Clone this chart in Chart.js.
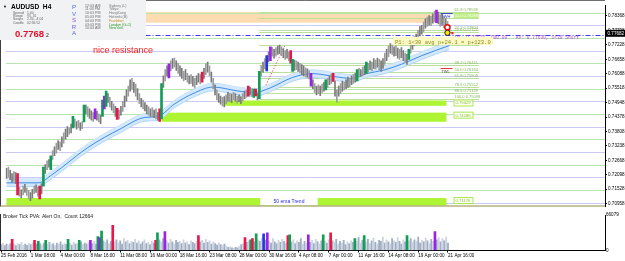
<!DOCTYPE html>
<html>
<head>
<meta charset="utf-8">
<script src="https://cdn.jsdelivr.net/npm/chart.js@4.4.1/dist/chart.umd.min.js"></script>
<style>
  html, body { margin: 0; padding: 0; background: #fff; }
  #wrap { position: relative; width: 625px; height: 261px; overflow: hidden; }
  .pane { position: absolute; left: 0; }
</style>
</head>
<body>
<div id="wrap">
  <div class="pane" style="top:0"><canvas id="main" width="625" height="212"></canvas></div>
  <div class="pane" style="top:212px"><canvas id="vol" width="625" height="49"></canvas></div>
</div>
<script>
// AUDUSD H4, 25 Feb - 21 Apr 2016
const timeLabels = ['25 Feb 2016', '1 Mar 08:00', '4 Mar 00:00', '8 Mar 16:00', '11 Mar 08:00', '16 Mar 00:00',
  '18 Mar 16:00', '23 Mar 08:00', '28 Mar 00:00', '30 Mar 16:00', '4 Apr 08:00', '7 Apr 00:00',
  '11 Apr 16:00', '14 Apr 08:00', '19 Apr 00:00', '21 Apr 16:00'];
const priceTicks = [0.70958, 0.71528, 0.72098, 0.72668, 0.73238, 0.73808, 0.74378, 0.74948,
  0.75518, 0.76088, 0.76658, 0.77228, 0.77798, 0.78368];

const barHigh = [
  0.7235, 0.7240, 0.7228, 0.7215, 0.7222, 0.7218, 0.7215, 0.7160, 0.7150, 0.7165,
  0.7172, 0.7158, 0.7148, 0.7140, 0.7152, 0.7165, 0.7170, 0.7160, 0.7165, 0.7175,
  0.7240, 0.7250, 0.7265, 0.7270, 0.7285, 0.7305, 0.7320, 0.7335, 0.7345, 0.7340,
  0.7360, 0.7375, 0.7390, 0.7400, 0.7395, 0.7410, 0.7440, 0.7430, 0.7420, 0.7425,
  0.7415, 0.7420, 0.7485, 0.7485, 0.7478, 0.7470, 0.7462, 0.7455, 0.7470, 0.7460,
  0.7450, 0.7445, 0.7505, 0.7520, 0.7540, 0.7530, 0.7515, 0.7500, 0.7490, 0.7480,
  0.7472, 0.7465, 0.7480, 0.7500, 0.7520, 0.7545, 0.7560, 0.7585, 0.7590, 0.7575,
  0.7568, 0.7550, 0.7530, 0.7512, 0.7505, 0.7495, 0.7485, 0.7478, 0.7470, 0.7475,
  0.7465, 0.7470, 0.7455, 0.7470, 0.7570, 0.7600, 0.7625, 0.7640, 0.7648, 0.7660,
  0.7668, 0.7670, 0.7660, 0.7650, 0.7640, 0.7630, 0.7618, 0.7625, 0.7610, 0.7600,
  0.7605, 0.7598, 0.7590, 0.7600, 0.7610, 0.7605, 0.7615, 0.7630, 0.7648, 0.7655,
  0.7640, 0.7615, 0.7590, 0.7565, 0.7545, 0.7530, 0.7520, 0.7515, 0.7518, 0.7525,
  0.7535, 0.7530, 0.7528, 0.7535, 0.7530, 0.7520, 0.7525, 0.7518, 0.7530, 0.7540,
  0.7545, 0.7560, 0.7555, 0.7550, 0.7548, 0.7548, 0.7530, 0.7618, 0.7640, 0.7655,
  0.7668, 0.7680, 0.7695, 0.7715, 0.7712, 0.7705, 0.7712, 0.7718, 0.7722, 0.7715,
  0.7708, 0.7700, 0.7705, 0.7695, 0.7700, 0.7665, 0.7662, 0.7660, 0.7655, 0.7650,
  0.7645, 0.7640, 0.7632, 0.7628, 0.7620, 0.7610, 0.7585, 0.7570, 0.7560, 0.7565,
  0.7560, 0.7568, 0.7575, 0.7585, 0.7590, 0.7600, 0.7608, 0.7610, 0.7580, 0.7545,
  0.7560, 0.7570, 0.7580, 0.7575, 0.7585, 0.7595, 0.7590, 0.7600, 0.7605, 0.7610,
  0.7625, 0.7630, 0.7625, 0.7635, 0.7640, 0.7655, 0.7650, 0.7660, 0.7655, 0.7668,
  0.7662, 0.7670, 0.7665, 0.7660, 0.7668, 0.7690, 0.7705, 0.7718, 0.7728, 0.7722,
  0.7715, 0.7718, 0.7710, 0.7705, 0.7712, 0.7700, 0.7690, 0.7685, 0.7705, 0.7725,
  0.7740, 0.7755, 0.7765, 0.7780, 0.7795, 0.7800, 0.7812, 0.7825, 0.7832, 0.7838,
  0.7835, 0.7845, 0.7855, 0.7860, 0.7852, 0.7840, 0.7845, 0.7835, 0.7825, 0.7815,
  0.7800];
const barLow = [
  0.7195, 0.7200, 0.7190, 0.7180, 0.7185, 0.7175, 0.7130, 0.7125, 0.7118, 0.7130,
  0.7140, 0.7128, 0.7115, 0.7108, 0.7118, 0.7135, 0.7140, 0.7125, 0.7115, 0.7135,
  0.7165, 0.7215, 0.7230, 0.7240, 0.7230, 0.7270, 0.7285, 0.7295, 0.7310, 0.7305,
  0.7320, 0.7335, 0.7350, 0.7360, 0.7370, 0.7375, 0.7395, 0.7400, 0.7390, 0.7395,
  0.7385, 0.7392, 0.7418, 0.7450, 0.7440, 0.7432, 0.7425, 0.7420, 0.7430, 0.7425,
  0.7418, 0.7412, 0.7440, 0.7470, 0.7480, 0.7495, 0.7478, 0.7465, 0.7455, 0.7440,
  0.7428, 0.7430, 0.7445, 0.7460, 0.7478, 0.7500, 0.7520, 0.7540, 0.7548, 0.7535,
  0.7520, 0.7505, 0.7490, 0.7478, 0.7470, 0.7462, 0.7450, 0.7445, 0.7440, 0.7438,
  0.7435, 0.7430, 0.7425, 0.7420, 0.7430, 0.7555, 0.7580, 0.7600, 0.7592, 0.7620,
  0.7630, 0.7635, 0.7622, 0.7610, 0.7600, 0.7590, 0.7580, 0.7585, 0.7575, 0.7568,
  0.7570, 0.7560, 0.7552, 0.7565, 0.7575, 0.7568, 0.7575, 0.7590, 0.7605, 0.7615,
  0.7600, 0.7575, 0.7550, 0.7525, 0.7505, 0.7495, 0.7488, 0.7482, 0.7478, 0.7490,
  0.7500, 0.7498, 0.7495, 0.7505, 0.7500, 0.7492, 0.7498, 0.7490, 0.7500, 0.7510,
  0.7515, 0.7520, 0.7525, 0.7520, 0.7515, 0.7522, 0.7505, 0.7510, 0.7600, 0.7615,
  0.7628, 0.7620, 0.7655, 0.7660, 0.7678, 0.7670, 0.7678, 0.7685, 0.7688, 0.7680,
  0.7672, 0.7665, 0.7670, 0.7660, 0.7650, 0.7618, 0.7622, 0.7625, 0.7618, 0.7612,
  0.7605, 0.7600, 0.7598, 0.7595, 0.7588, 0.7560, 0.7550, 0.7535, 0.7525, 0.7530,
  0.7522, 0.7535, 0.7540, 0.7545, 0.7555, 0.7565, 0.7570, 0.7578, 0.7520, 0.7496,
  0.7520, 0.7530, 0.7540, 0.7545, 0.7550, 0.7555, 0.7558, 0.7565, 0.7570, 0.7575,
  0.7580, 0.7595, 0.7598, 0.7600, 0.7605, 0.7610, 0.7615, 0.7625, 0.7620, 0.7630,
  0.7628, 0.7635, 0.7625, 0.7618, 0.7630, 0.7645, 0.7660, 0.7675, 0.7690, 0.7685,
  0.7678, 0.7680, 0.7670, 0.7665, 0.7672, 0.7660, 0.7652, 0.7645, 0.7665, 0.7690,
  0.7705, 0.7718, 0.7730, 0.7742, 0.7758, 0.7765, 0.7775, 0.7788, 0.7795, 0.7800,
  0.7798, 0.7808, 0.7815, 0.7810, 0.7805, 0.7795, 0.7800, 0.7790, 0.7785, 0.7770,
  0.7765];
// PVSRA colour per bar: d/l normal, R red, G green, P purple, B blue climax
const barKind = ['dlddldRldl', 'dllddldlRd', 'GdldGldldl', 'dlddldGldl', 'dlGdlddlPd',
  'ldGPGdldld', 'Rldlddldld', 'ldldlddldl', 'dldRGdldPl', 'dldlddldld',
  'ldlddlRdld', 'ldldlddldl', 'dldldlddld', 'lRdlGRdGld', 'lBdPldlddl',
  'dldlRGdldl', 'ddldlPdldl', 'dldGldlRdl', 'dldlddldld', 'GldldGldld',
  'ldlddldldl', 'dldlddldGl', 'dldlddldld', 'ldlPdldldl', 'd'].join('');
const tickVolume = [
  11000, 14000, 9000, 12000, 10000, 13000, 21000, 12000, 9000, 13000,
  11000, 15000, 10000, 12000, 9500, 13500, 11000, 14000, 19000, 12000,
  17000, 13000, 10000, 14000, 19000, 12000, 15000, 11000, 13000, 9000,
  14000, 12000, 16000, 10000, 13000, 11500, 21000, 14000, 10000, 15000,
  12000, 13000, 19000, 16000, 11000, 14000, 12000, 15000, 19000, 13000,
  17000, 12000, 26000, 24000, 36000, 18000, 15000, 20000, 13000, 17000,
  47000, 16000, 20000, 14000, 18000, 12000, 22000, 16000, 19000, 13000,
  17000, 15000, 21000, 14000, 18000, 12000, 16000, 20000, 13000, 15000,
  11000, 17000, 14000, 19000, 33000, 20000, 16000, 22000, 35000, 18000,
  14000, 21000, 16000, 12000, 19000, 15000, 17000, 13000, 20000, 14000,
  16000, 11000, 18000, 15000, 13000, 17000, 28000, 16000, 19000, 14000,
  21000, 15000, 18000, 12000, 16000, 13000, 10000, 14000, 11000, 9000,
  12000, 8000, 6000, 7000, 5000, 4000, 6000, 5000, 8000, 11000,
  13000, 24000, 15000, 18000, 20000, 22000, 16000, 31000, 20000, 17000,
  23000, 31000, 19000, 33000, 18000, 14000, 22000, 16000, 13000, 19000,
  15000, 21000, 17000, 14000, 28000, 29000, 16000, 20000, 13000, 18000,
  15000, 22000, 12000, 17000, 14000, 29000, 15000, 19000, 13000, 21000,
  16000, 12000, 18000, 29000, 17000, 14000, 20000, 33000, 18000, 15000,
  21000, 12000, 17000, 14000, 19000, 11000, 16000, 13000, 18000, 15000,
  22000, 17000, 24000, 14000, 19000, 28000, 16000, 21000, 13000, 18000,
  23000, 15000, 12000, 19000, 17000, 25000, 14000, 20000, 16000, 13000,
  22000, 18000, 15000, 24000, 17000, 12000, 20000, 16000, 28000, 18000,
  22000, 15000, 20000, 17000, 25000, 14000, 19000, 16000, 23000, 18000,
  13000, 21000, 17000, 35000, 20000, 24000, 16000, 22000, 18000, 25000,
  14000];
const volumeMax = 66079;

// 50 EMA read at a few bars
const emaBar = [0, 17, 25, 44, 62, 75, 82, 91, 101, 112, 125, 134, 143, 155, 166, 178, 187, 195, 205, 214, 225, 240];
const emaValue = [0.7178, 0.7178, 0.7212, 0.7317, 0.7392, 0.7436, 0.7440, 0.7489, 0.7530, 0.7556, 0.7541,
  0.7534, 0.7553, 0.7594, 0.7609, 0.7597, 0.7590, 0.7609, 0.7624, 0.7646, 0.7680, 0.7720];

// levels and zones
const greenLevels = [0.7150, 0.7250, 0.7350, 0.7450, 0.7550, 0.7650, 0.7750, 0.7850];
const purpleLevels = [0.7100, 0.7200, 0.7300, 0.7400, 0.7500, 0.7600, 0.7700, 0.7800];
const fibNames = ['38.2', '50.0', '61.8', '78.6', '88.6', '100.0'];
const fibPrices = [0.76411, 0.76160, 0.75909, 0.75552, 0.75339, 0.75098];
const extNames = ['0.0', '23.6', '27.2', '50.0', '61.8'];
const extPrices = [0.77225, 0.77727, 0.77804, 0.78289, 0.78539];
const zoneTop = [0.7503, 0.7455, 0.7118];
const zoneBottom = [0.7482, 0.7419, 0.7089];
const zoneFromBar = [118, 84, 0];
const zoneNames = ['0.75029', '0.74188', '0.71176'];
const supplyTop = 0.7852, supplyBottom = 0.7810;
const entryPrice = 0.77630, lastPrice = 0.77682;
const fibLowBar = 137, fibHighBar = 151;
const markBar = [238.9, 238.9, 241.6];
const markPrice = [0.7792, 0.7770, 0.7769];

const X_MIN = -0.54, X_MAX = 324.3;
const FONT = 'Liberation Sans', MONO = 'Liberation Mono';
Chart.defaults.font.family = FONT;

const priceColor = { d: '#7a7a7a', l: '#9d9d9d', R: '#e8174a', G: '#129c55', P: '#9a22e6', B: '#2336e0' };
const volColor = { d: '#a0aec4', l: '#cdd4e0', R: '#e8174a', G: '#129c55', P: '#9a22e6', B: '#2336e0' };
const isPlain = k => k === 'd' || k === 'l';

const plainBars = [], plainBarCol = [], hotBars = [], hotBarCol = [];
const plainVol = [], plainVolCol = [], hotVol = [], hotVolCol = [];
barHigh.forEach((hi, i) => {
  const k = barKind[i];
  const bar = { x: i, y: [barLow[i], hi] };
  const vol = { x: i, y: tickVolume[i] };
  if (isPlain(k)) {
    plainBars.push(bar); plainBarCol.push(priceColor[k]);
    plainVol.push(vol); plainVolCol.push(volColor[k]);
  } else {
    hotBars.push(bar); hotBarCol.push(priceColor[k]);
    hotVol.push(vol); hotVolCol.push(volColor[k]);
  }
});
const bandHalf = 0.0015;
const emaMid = emaBar.map((b, k) => ({ x: b, y: emaValue[k] }));
const emaUp = emaBar.map((b, k) => ({ x: b, y: emaValue[k] + bandHalf }));
const emaDn = emaBar.map((b, k) => ({ x: b, y: emaValue[k] - bandHalf }));

function txt(ctx, s, x, y, size, color, opts = {}) {
  ctx.font = (opts.bold ? 'bold ' : '') + size + 'px ' + (opts.family || FONT);
  ctx.fillStyle = color;
  ctx.textAlign = opts.align || 'left';
  ctx.textBaseline = 'alphabetic';
  ctx.fillText(s, x, y);
}

const mainOverlay = {
  id: 'mainOverlay',
  beforeDatasetsDraw(chart) {
    const { ctx, chartArea: a } = chart;
    const X = v => chart.scales.x.getPixelForValue(v);
    const Y = v => chart.scales.y.getPixelForValue(v);
    const H = v => Math.round(Y(v)) + 0.5;
    ctx.save();
    ctx.beginPath(); ctx.rect(a.left, a.top, a.right - a.left, a.bottom - a.top); ctx.clip();

    // supply zone
    ctx.fillStyle = '#fddbb0';
    ctx.fillRect(X(0), Y(supplyTop), X(235.7) - X(0), Y(supplyBottom) - Y(supplyTop));

    // round number lines
    ctx.lineWidth = 1;
    const hl = (p, c, x0, x1) => { ctx.strokeStyle = c; ctx.beginPath(); ctx.moveTo(x0, H(p)); ctx.lineTo(x1, H(p)); ctx.stroke(); };
    greenLevels.forEach(p => hl(p, '#b7e6b1', a.left, a.right));
    purpleLevels.forEach(p => hl(p, '#cacaf2', a.left, a.right));

    // demand zones
    ctx.fillStyle = '#adf533';
    zoneTop.forEach((t, k) => {
      ctx.fillRect(X(zoneFromBar[k]), Y(t), X(238.4) - X(zoneFromBar[k]), Y(zoneBottom[k]) - Y(t));
    });
    const ty = Y(zoneTop[2]), by = Y(zoneBottom[2]);
    ctx.fillStyle = '#ffffff';
    ctx.fillRect(X(137.5), ty, X(168.6) - X(137.5), by - ty);
    txt(ctx, '50 ema Trend', (X(137.5) + X(168.6)) / 2, by - 2, 5, '#2b2bd0', { align: 'center' });

    // fibonacci lines
    fibPrices.concat(extPrices).forEach(p => hl(p, '#bddf9c', X(fibLowBar), X(256)));
    ctx.setLineDash([1.5, 1.5]);
    ctx.strokeStyle = '#f06666';
    ctx.beginPath();
    ctx.moveTo(X(fibLowBar), Y(fibPrices[5]));
    ctx.lineTo(X(fibHighBar), Y(extPrices[0]));
    ctx.stroke();

    // entry line
    ctx.setLineDash([5, 2, 1, 2]);
    hl(entryPrice, '#3a3af0', a.left, a.right);
    ctx.restore();
  },
  afterDatasetsDraw(chart) {
    const { ctx } = chart;
    const X = v => chart.scales.x.getPixelForValue(v);
    const Y = v => chart.scales.y.getPixelForValue(v);
    ctx.save();
    // fib labels
    const lx = X(242.8);
    fibPrices.forEach((p, k) => txt(ctx, fibNames[k] + ' ' + p.toFixed(5), lx, Y(p) - 1, 4, '#86b45c'));
    extPrices.forEach((p, k) => {
      const s = extNames[k] + ' ' + p.toFixed(5);
      if (extNames[k] === '50.0') {
        ctx.fillStyle = '#b9ec7c';
        ctx.fillRect(lx - 1, Y(p) - 5, 25, 5);
        txt(ctx, s, lx, Y(p) - 1, 4, '#ffffff');
      } else {
        txt(ctx, s, lx, Y(p) - 1, 4, '#86b45c');
      }
    });
    // zone labels
    zoneTop.forEach((t, k) => {
      const y0 = Y(t);
      ctx.fillStyle = '#fff'; ctx.strokeStyle = '#a9ea48'; ctx.lineWidth = 1;
      ctx.fillRect(X(242.2), y0 - 1, 19, 6);
      ctx.strokeRect(X(242.2) + 0.5, y0 - 0.5, 19, 6);
      txt(ctx, zoneNames[k], X(242.2) + 2, y0 + 4, 4.2, '#88c61e');
    });

    // trade window marks
    ctx.fillStyle = '#e03030'; ctx.fillRect(X(235.2), Y(0.7631), 12, 1);
    txt(ctx, 'TWL', X(235.6), Y(0.7631) + 5, 4, '#505050');
    ctx.fillStyle = '#3040d0'; ctx.fillRect(X(235.2), Y(0.7848), 12, 1);
    txt(ctx, 'TWH', X(235.6), Y(0.7848) + 5, 4, '#3040d0');

    // notes
    txt(ctx, 'nice resistance', 93, 53, 9, '#ff1a1a');
    const ey = Y(entryPrice);
    txt(ctx, 'P1  0.77630, 000.00   AV: 0.77630, 1<30 Short', 455, ey + 4.5, 4.6, '#b24ed0', { family: MONO });
    ctx.fillStyle = '#fdf9c4';
    ctx.fillRect(393, 37, 100, 8);
    txt(ctx, 'P1: 1<30 avg p+24.1 = p+123.0', 395, 43.5, 5.5, '#8c8c1c', { family: MONO });
    ctx.restore();
  },
  afterDraw(chart) {
    const { ctx, chartArea: a } = chart;
    const Y = v => chart.scales.y.getPixelForValue(v);
    ctx.save();
    // frame
    ctx.lineWidth = 1;
    ctx.strokeStyle = '#6e6e6e';
    ctx.beginPath(); ctx.moveTo(a.left, 0.5); ctx.lineTo(a.right, 0.5); ctx.stroke();
    ctx.strokeStyle = '#404040';
    ctx.beginPath(); ctx.moveTo(0.5, 0); ctx.lineTo(0.5, a.bottom); ctx.stroke();
    ctx.strokeStyle = '#8a8a3c';
    ctx.beginPath(); ctx.moveTo(0, a.bottom - 0.5); ctx.lineTo(a.right, a.bottom - 0.5); ctx.stroke();

    // current price box
    const py = Y(lastPrice);
    ctx.fillStyle = '#000';
    ctx.fillRect(a.right + 1, py - 3.5, 19, 7);
    txt(ctx, lastPrice.toFixed(5), a.right + 2.5, py + 1.7, 4.6, '#ffffff');

    // info panel
    ctx.fillStyle = '#f1f2f4';
    ctx.fillRect(0, 0, 146, 40);
    txt(ctx, '\u25BC', 3, 8, 4, '#000');
    txt(ctx, 'AUDUSD  H4', 11, 8.5, 6.6, '#000', { bold: true });
    const rows = [['Spread', '1.40'], ['Range', '95, 31'], ['Swaps', '2.34, -4.04'], ['Candle', '02:56:52']];
    rows.forEach((r, k) => {
      txt(ctx, r[0], 13, 14 + k * 3.2, 3.4, '#666');
      txt(ctx, r[1], 27, 14 + k * 3.2, 3.4, '#666');
    });
    txt(ctx, '0.7768', 15, 36.5, 9.5, '#e8102a', { bold: true });
    txt(ctx, '2', 46, 36.5, 5, '#222');
    const pv = ['P', 'V', 'S', 'R', 'A'];
    const pvCol = ['#5a6ee0', '#5a6ee0', '#8a58e0', '#7a5ee0', '#5a6ee0'];
    pv.forEach((c, k) => txt(ctx, c, 74, 9 + k * 6.6, 6.2, pvCol[k], { align: 'center' }));
    const times = ['12:03 AM', '11:03 PM', '10:03 PM', '05:03 PM', '04:03 PM', '03:03 PM', '10:03 AM'];
    const cities = ['Sydney (L)', 'Tokyo', 'HongKong', 'Helsinki (B)', 'Frankfurt', 'London (G+1)', 'NewYork'];
    const cityCol = ['#777', '#777', '#777', '#777', '#d08a10', '#2a9a2a', '#2a9a2a'];
    times.forEach((t, k) => {
      txt(ctx, t, 85, 6.5 + k * 3.8, 3.6, '#6a6a6a');
      txt(ctx, cities[k], 109, 6.5 + k * 3.8, 3.6, cityCol[k]);
    });
    ctx.restore();
  }
};

new Chart(document.getElementById('main'), {
  type: 'bar',
  data: {
    datasets: [
      { data: plainBars, backgroundColor: plainBarCol, barThickness: 1, grouped: false, order: 1 },
      { data: hotBars, backgroundColor: hotBarCol, barThickness: 2, grouped: false, order: 0 },
      { type: 'line', data: emaUp, borderColor: '#b3d5f5', borderWidth: 1, pointRadius: 0,
        fill: false, cubicInterpolationMode: 'monotone', order: 6 },
      { type: 'line', data: emaDn, borderColor: '#b3d5f5', borderWidth: 1, pointRadius: 0,
        fill: '-1', backgroundColor: '#d3e8fc', cubicInterpolationMode: 'monotone', order: 5 },
      { type: 'line', data: emaMid, borderColor: '#3a8ce4', borderWidth: 1, pointRadius: 0,
        fill: false, cubicInterpolationMode: 'monotone', order: 4 },
      { type: 'line', data: [{ x: markBar[0], y: markPrice[0] }], showLine: false, pointRadius: 2.6,
        pointBackgroundColor: '#fff', pointBorderColor: '#e01010', pointBorderWidth: 1.5, order: -1 },
      { type: 'line', data: [{ x: markBar[1], y: markPrice[1] }], showLine: false, pointRadius: 2.6,
        pointBackgroundColor: '#ffe600', pointBorderColor: '#202020', pointBorderWidth: 1, order: -1 },
      { type: 'line', data: [{ x: markBar[2], y: markPrice[2] }], showLine: false, pointRadius: 1.6,
        pointStyle: 'rect', pointBackgroundColor: '#ff2020', pointBorderWidth: 0, order: -1 }
    ]
  },
  options: {
    responsive: false,
    animation: false,
    events: [],
    layout: { padding: 0 },
    plugins: { legend: { display: false }, tooltip: { enabled: false } },
    scales: {
      x: { type: 'linear', min: X_MIN, max: X_MAX, offset: false, display: false },
      y: {
        type: 'linear', position: 'right', min: 0.70846, max: 0.78779,
        afterBuildTicks: s => { s.ticks = priceTicks.map(v => ({ value: v })); },
        afterFit: s => { s.width = 20; s.paddingTop = 0; s.paddingBottom = 0; },
        ticks: { font: { size: 4.6 }, color: '#000', padding: 1, callback: v => v.toFixed(5) },
        grid: { drawOnChartArea: false, drawTicks: true, tickLength: 2, color: '#000' },
        border: { display: true, color: '#000' }
      }
    }
  },
  plugins: [mainOverlay]
});

const volOverlay = {
  id: 'volOverlay',
  afterDraw(chart) {
    const { ctx, chartArea: a } = chart;
    ctx.save();
    ctx.strokeStyle = '#303030'; ctx.lineWidth = 1;
    ctx.beginPath(); ctx.moveTo(0.5, a.top - 1); ctx.lineTo(0.5, a.bottom); ctx.stroke();
    txt(ctx, 'Broker Tick PVA: Alert On,  Count 12664', 3, 5.5, 5, '#222');
    ctx.restore();
  }
};

new Chart(document.getElementById('vol'), {
  type: 'bar',
  data: {
    datasets: [
      { data: plainVol, backgroundColor: plainVolCol, barThickness: 1.2, grouped: false, order: 1 },
      { data: hotVol, backgroundColor: hotVolCol, barThickness: 2, grouped: false, order: 0 }
    ]
  },
  options: {
    responsive: false,
    animation: false,
    events: [],
    layout: { padding: { top: 3 } },
    plugins: { legend: { display: false }, tooltip: { enabled: false } },
    scales: {
      x: {
        type: 'linear', min: X_MIN, max: X_MAX, offset: false,
        afterBuildTicks: s => { s.ticks = timeLabels.map((_, k) => ({ value: k * 16 })); },
        afterFit: s => { s.height = 10.5; s.paddingLeft = 0; s.paddingRight = 0; },
        ticks: { autoSkip: false, maxRotation: 0, align: 'start', padding: 0, font: { size: 4.6 }, color: '#000',
          callback: (v, k) => timeLabels[k] },
        grid: { drawOnChartArea: false, offset: false, drawTicks: true, tickLength: 2, color: '#000' },
        border: { display: true, color: '#000' }
      },
      y: {
        type: 'linear', position: 'right', min: 0, max: volumeMax,
        afterBuildTicks: s => { s.ticks = [{ value: 0 }, { value: volumeMax }]; },
        afterFit: s => { s.width = 20; s.paddingTop = 0; s.paddingBottom = 0; },
        ticks: { font: { size: 4.6 }, color: '#000', padding: 1, callback: v => String(v) },
        grid: { drawOnChartArea: false, drawTicks: false },
        border: { display: true, color: '#000' }
      }
    }
  },
  plugins: [volOverlay]
});
</script>
</body>
</html>
